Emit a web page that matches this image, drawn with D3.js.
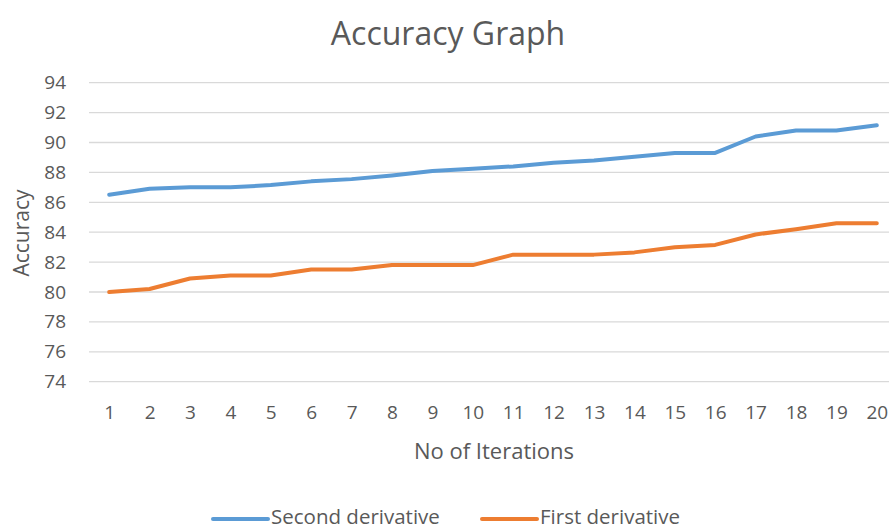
<!DOCTYPE html>
<html><head><meta charset="utf-8">
<script src="https://cdn.jsdelivr.net/npm/d3@7"></script>
<style>body{margin:0;background:#fff;overflow:hidden}</style>
</head><body>
<svg id="c" width="889" height="530"></svg>
<script>
const iterations = [1,2,3,4,5,6,7,8,9,10,11,12,13,14,15,16,17,18,19,20];
const secondDerivative = [86.5,86.9,87.0,87.0,87.15,87.4,87.55,87.8,88.1,88.25,88.4,88.65,88.8,89.05,89.3,89.3,90.4,90.8,90.8,91.15];
const firstDerivative = [80.0,80.2,80.9,81.1,81.1,81.5,81.5,81.8,81.8,81.8,82.5,82.5,82.5,82.65,83.0,83.15,83.85,84.2,84.6,84.6];
const yTicks = [74,76,78,80,82,84,86,88,90,92,94];
const seriesNames = ["Second derivative","First derivative"];
const colors = ["#5B9BD5","#ED7D31"];

(function(){
const svg = d3.select("#c");
const font = "'Open Sans', sans-serif";
const textColor = "#595959";
const pL = 89, pR = 897, pT = 82.7, pB = 381.7;

const x = d3.scalePoint().domain(iterations).range([pL, pR]).padding(0.5);
const y = d3.scaleLinear().domain([74, 94]).range([pB, pT]);

svg.append("g").selectAll("line").data(yTicks).join("line")
  .attr("x1", pL).attr("x2", pR)
  .attr("y1", d => y(d)).attr("y2", d => y(d))
  .attr("stroke", "#d9d9d9").attr("stroke-width", 1.3);

const yAxis = svg.append("g").attr("transform", `translate(${pL},0)`)
  .call(d3.axisLeft(y).tickValues(yTicks).tickSize(0).tickPadding(23));
yAxis.select(".domain").remove();
yAxis.selectAll("text").attr("font-family", font).attr("font-size", 19).attr("fill", textColor);

const xAxis = svg.append("g").attr("transform", `translate(0,${pB})`)
  .call(d3.axisBottom(x).tickSize(0));
xAxis.select(".domain").remove();
xAxis.selectAll("text").attr("dy", null).attr("y", 419 - pB)
  .attr("font-family", font).attr("font-size", 19).attr("fill", textColor);

const line = d3.line().x((d, i) => x(iterations[i])).y(d => y(d));
[secondDerivative, firstDerivative].forEach((s, k) => {
  svg.append("path").datum(s).attr("d", line)
    .attr("fill", "none").attr("stroke", colors[k]).attr("stroke-width", 4)
    .attr("stroke-linejoin", "round").attr("stroke-linecap", "round");
});

svg.append("text").attr("x", 448).attr("y", 45).attr("text-anchor", "middle")
  .attr("font-family", font).attr("font-size", 32).attr("fill", textColor).text("Accuracy Graph");

svg.append("text").attr("x", 494).attr("y", 459).attr("text-anchor", "middle")
  .attr("font-family", font).attr("font-size", 22).attr("fill", textColor).text("No of Iterations");
svg.append("text").attr("transform", "translate(29,233) rotate(-90)").attr("text-anchor", "middle")
  .attr("font-family", font).attr("font-size", 21).attr("fill", textColor).text("Accuracy");

const legendX = [213, 482];
seriesNames.forEach((n, k) => {
  svg.append("line").attr("x1", legendX[k]).attr("x2", legendX[k] + 55)
    .attr("y1", 519).attr("y2", 519).attr("stroke", colors[k]).attr("stroke-width", 4).attr("stroke-linecap", "round");
  svg.append("text").attr("x", legendX[k] + 58).attr("y", 524)
    .attr("font-family", font).attr("font-size", 20.5).attr("fill", textColor).text(n);
});
})();
</script>
</body></html>
